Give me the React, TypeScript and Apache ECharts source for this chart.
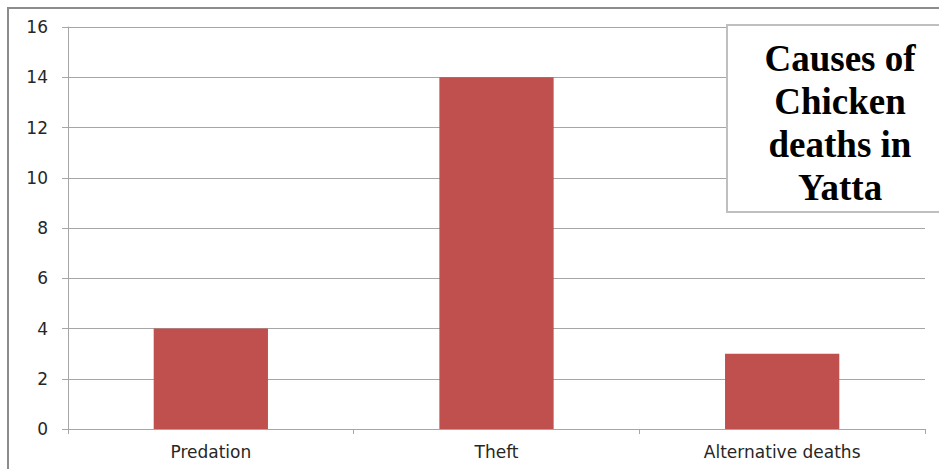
import React, { useEffect, useRef } from "react";
import * as echarts from "echarts";

const categories = ["Predation", "Theft", "Alternative deaths"];
const deaths = [4, 14, 3];
const titleLines = ["Causes of", "Chicken", "deaths in", "Yatta"];

export default function App() {
  const ref = useRef<HTMLDivElement>(null);
  useEffect(() => {
    if (!ref.current) return;
    const chart = echarts.init(ref.current, null, { renderer: "svg" });
    chart.setOption({
      animation: false,
      backgroundColor: "#ffffff",
      grid: { left: 68, right: 14, top: 27, bottom: 40 },
      xAxis: {
        type: "category",
        data: categories,
        boundaryGap: true,
        axisLine: { show: true, lineStyle: { color: "#a6a6a6", width: 1 } },
        axisTick: { show: true, length: 5, lineStyle: { color: "#a6a6a6" } },
        axisLabel: { color: "#262626", fontSize: 17, fontFamily: "DejaVu Sans", margin: 14 },
        splitLine: { show: false },
      },
      yAxis: {
        type: "value",
        min: 0,
        max: 16,
        interval: 2,
        axisLine: { show: true, lineStyle: { color: "#a6a6a6", width: 1 } },
        axisTick: { show: true, length: 6, lineStyle: { color: "#a6a6a6" } },
        axisLabel: { color: "#262626", fontSize: 17, fontFamily: "DejaVu Sans", margin: 20 },
        splitLine: { show: true, lineStyle: { color: "#a6a6a6", width: 1 } },
      },
      series: [
        {
          type: "bar",
          data: deaths,
          barWidth: "40%",
          itemStyle: { color: "#c0504d" },
        },
      ],
      graphic: [
        {
          type: "rect",
          shape: { x: 8, y: 8, width: 960, height: 480 },
          style: { fill: "none", stroke: "#8c8c8c", lineWidth: 2 },
          silent: true,
          z: 100,
        },
        {
          type: "rect",
          shape: { x: 727, y: 25, width: 232, height: 187 },
          style: { fill: "#ffffff", stroke: "#bfbfbf", lineWidth: 2 },
          z: 100,
        },
        ...titleLines.map((t, i) => ({
          type: "text",
          x: 840,
          y: 58 + i * 43,
          z: 101,
          style: {
            text: t,
            fill: "#000000",
            font: "bold 37px 'Liberation Serif', 'Times New Roman', serif",
            textAlign: "center",
            textVerticalAlign: "middle",
          },
        })),
      ],
    });
    return () => chart.dispose();
  }, []);
  return (
    <div
      ref={ref}
      style={{ position: "fixed", left: 0, top: 0, width: 939, height: 469 }}
    />
  );
}
